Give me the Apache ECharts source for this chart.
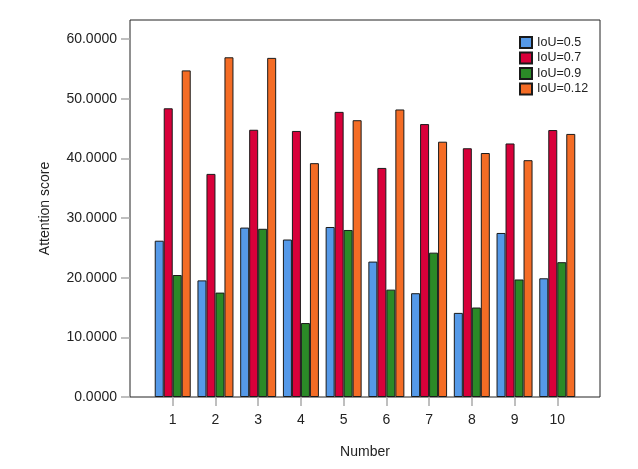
<!DOCTYPE html>
<html>
<head>
<meta charset="utf-8">
<script src="https://cdn.jsdelivr.net/npm/echarts@6/dist/echarts.min.js"></script>
<style>
html,body{margin:0;padding:0;background:#fff;}
#chart{width:638px;height:469px;}
</style>
</head>
<body>
<div id="chart"></div>
<script>
// Data
const categories = ['1','2','3','4','5','6','7','8','9','10'];
const seriesNames = ['IoU=0.5','IoU=0.7','IoU=0.9','IoU=0.12'];
const iou05  = [26.2, 19.55, 28.4, 26.4, 28.5, 22.7, 17.4, 14.1, 27.5, 19.9];
const iou07  = [48.4, 37.4, 44.8, 44.6, 47.8, 38.4, 45.75, 41.7, 42.5, 44.75];
const iou09  = [20.45, 17.5, 28.2, 12.4, 28.0, 18.0, 24.2, 15.0, 19.7, 22.6];
const iou012 = [54.75, 56.95, 56.85, 39.2, 46.4, 48.2, 42.8, 40.9, 39.7, 44.1];
const yTicks = [0, 10, 20, 30, 40, 50, 60];

const colors = ['#5599e8', '#d8003a', '#2b8a27', '#f46c25'];
const allValues = [iou05, iou07, iou09, iou012];

// pad categories with empty slots at both ends (axis runs 0..11)
const xCats = [''].concat(categories, ['']);

const chart = echarts.init(document.getElementById('chart'));
const font = 'Liberation Sans, Arial, sans-serif';

chart.setOption({
  backgroundColor: '#fff',
  animation: false,
  grid: {
    left: 130, right: 38, top: 20, bottom: 72,
    show: true, borderColor: '#222', borderWidth: 1, backgroundColor: 'transparent'
  },
  legend: {
    orient: 'vertical',
    left: 514, top: 31,
    itemWidth: 12, itemHeight: 11, itemGap: 2.5,
    icon: 'rect',
    textStyle: { fontFamily: font, fontSize: 12.5, color: '#222' },
    data: seriesNames
  },
  xAxis: {
    type: 'category',
    data: xCats,
    boundaryGap: false,
    axisLine: { show: false },
    axisTick: {
      show: true, length: 9,
      lineStyle: { color: '#aaa', width: 1.5 },
      interval: function (idx, val) { return val !== ''; }
    },
    axisLabel: {
      fontFamily: font, fontSize: 14, color: '#222', margin: 16,
      interval: 0
    },
    splitLine: { show: false },
    name: 'Number',
    nameLocation: 'middle',
    nameGap: 48,
    nameTextStyle: { fontFamily: font, fontSize: 14, color: '#222' }
  },
  yAxis: {
    type: 'value',
    min: 0, max: 63.2,
    axisLine: { show: false },
    axisTick: {
      show: true, length: 9,
      lineStyle: { color: '#aaa', width: 1.5 },
      customValues: yTicks
    },
    axisLabel: {
      fontFamily: font, fontSize: 14, color: '#222', margin: 13,
      customValues: yTicks,
      formatter: function (v) { return Number(v).toFixed(4); }
    },
    splitLine: { show: false },
    name: 'Attention score',
    nameLocation: 'middle',
    nameGap: 78,
    nameTextStyle: { fontFamily: font, fontSize: 14, color: '#222' }
  },
  series: seriesNames.map(function (name, i) {
    return {
      name: name,
      type: 'bar',
      barWidth: 9,
      barGap: '0%',
      itemStyle: { color: colors[i], borderColor: '#1a1a1a', borderWidth: 1 },
      data: ['-'].concat(allValues[i], ['-'])
    };
  })
});
</script>
</body>
</html>
